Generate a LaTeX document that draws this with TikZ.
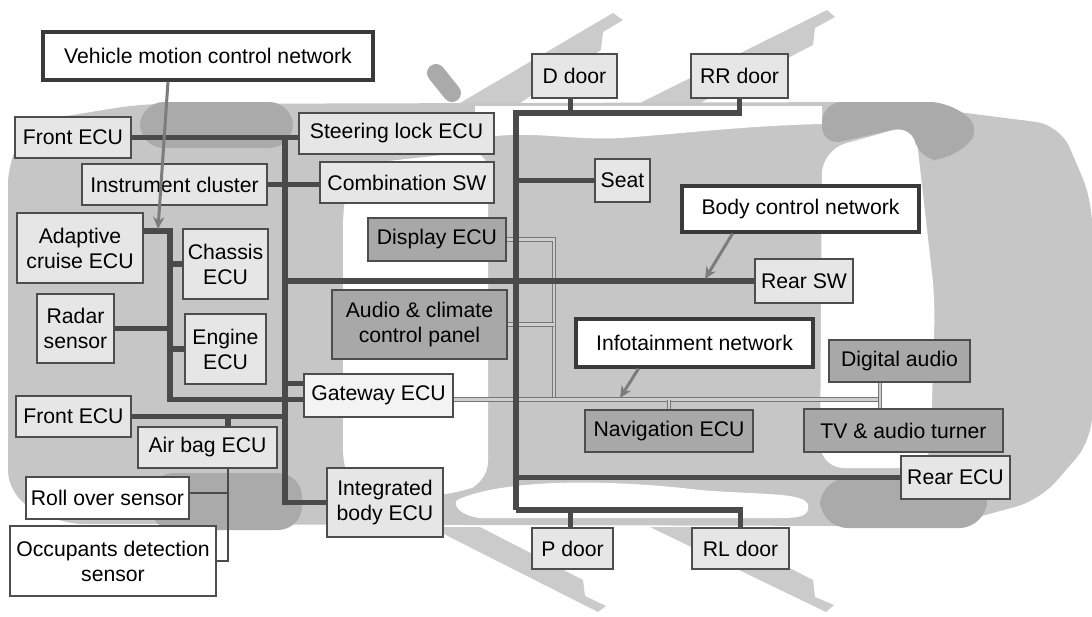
\documentclass[tikz,border=0pt]{standalone}
\usepackage{fontspec}
\setmainfont{Liberation Sans}
\usetikzlibrary{arrows.meta,positioning}

\definecolor{bodyfill}{HTML}{C6C6C6}
\definecolor{archfill}{HTML}{AAAAAA}
\definecolor{doorfill}{HTML}{CBCBCB}
\definecolor{lightbox}{HTML}{E6E6E6}
\definecolor{gatefill}{HTML}{F3F3F3}
\definecolor{darkbox}{HTML}{A8A8A8}
\definecolor{boxline}{HTML}{4D4D4D}
\definecolor{netline}{HTML}{3A3A3A}
\definecolor{busline}{HTML}{4A4A4A}
\definecolor{avline}{HTML}{777777}
\definecolor{avfill}{HTML}{CFCFCF}
\definecolor{arrowgray}{HTML}{7C7C7C}

\begin{document}
\begin{tikzpicture}[x=0.5pt,y=-0.5pt,font=\fontsize{10.6}{12.5}\selectfont]
  \tikzstyle{unit}=[draw=boxline, line width=0.7pt, fill=lightbox, inner sep=0pt, align=center, minimum height=20.5pt]
  \tikzstyle{media}=[unit, fill=darkbox]
  \tikzstyle{sensor}=[unit, fill=white]
  \tikzstyle{net}=[unit, fill=white, draw=netline, line width=1.6pt]
  \tikzstyle{bus}=[draw=busline, line width=2.6pt]
  \tikzstyle{wire}=[draw=busline, line width=0.8pt]
  \tikzstyle{avbus}=[draw=avline, line width=0.6pt, double=avfill, double distance=1.1pt]
  \tikzstyle{pointer}=[draw=arrowgray, line width=1.5pt, -{Stealth[length=6pt,width=5.5pt]}]

  \useasboundingbox (0,0) rectangle (1092,616);

  % car seen from above, doors open
  \fill[doorfill] (460,103) -- (613,13) -- (623,20) -- (603,32) -- (601,50) -- (520,103) -- cycle;
  \fill[doorfill] (640,103) -- (827,10) -- (835,17) -- (815,28) -- (813,45) -- (700,103) -- cycle;
  \fill[doorfill] (430,527) -- (598,612) -- (606,606) -- (585,596) -- (583,580) -- (480,527) -- cycle;
  \fill[doorfill] (650,527) -- (826,612) -- (834,605) -- (815,597) -- (813,580) -- (710,527) -- cycle;
  \draw[archfill, line width=9pt, line cap=round] (436,73) -- (452,93);

  \fill[bodyfill, rounded corners=12pt] (30,122) -- (140,104) -- (880,102) -- (1060,125)
    -- (1092,200) -- (1092,440) -- (1040,500) -- (960,522) -- (880,526) -- (60,524)
    -- (8,495) -- (8,160) -- cycle;

  \fill[white, rounded corners=10pt] (343,205) -- (352,165) -- (488,150) -- (488,482)
    -- (455,494) -- (358,500) -- (343,470) -- cycle;
  \fill[white] (475,106) -- (822,106) -- (822,124) .. controls (740,126) and (680,134) .. (620,138)
    .. controls (570,141) and (520,128) .. (475,140) -- cycle;
  \fill[white] (457,500) .. controls (500,480) and (600,478) .. (700,490)
    .. controls (760,495) and (805,492) .. (808,505) .. controls (810,516) and (800,518) .. (780,518)
    -- (480,518) .. controls (462,516) and (452,506) .. (457,500) -- cycle;
  \fill[white, rounded corners=12pt] (822,150) -- (915,124) -- (935,300) -- (930,468) -- (820,468) -- cycle;

  \fill[archfill, rounded corners=12pt] (140,102) rectangle (293,148);
  \fill[archfill, rounded corners=12pt] (150,473) rectangle (302,530);
  \fill[archfill, rounded corners=10pt] (822,102) -- (950,102) -- (983,130) -- (950,160)
    -- (918,160) -- (913,125) -- (822,146) -- cycle;
  \fill[archfill, rounded corners=14pt] (820,478) rectangle (987,528);

  % units
  \node[net, minimum width=165pt, minimum height=24pt] (vmcn) at (208,56) {Vehicle motion control network};
  \node[unit, minimum width=58pt] (frontf) at (73,137.5) {Front ECU};
  \node[unit, minimum width=97.5pt] (steer) at (396.5,133.5) {Steering lock ECU};
  \node[unit, minimum width=92.5pt] (instr) at (174.5,184.5) {Instrument cluster};
  \node[unit, minimum width=87pt] (combsw) at (407,182.5) {Combination SW};
  \node[unit, minimum width=63pt, minimum height=35pt] (acc) at (80,248) {Adaptive\\cruise ECU};
  \node[unit, minimum width=42.5pt, minimum height=35pt] (chassis) at (225.5,264) {Chassis\\ECU};
  \node[unit, minimum width=38.5pt, minimum height=34.5pt] (radar) at (75.5,328.5) {Radar\\sensor};
  \node[unit, minimum width=40.5pt, minimum height=35pt] (engine) at (225.5,349) {Engine\\ECU};
  \node[unit, fill=gatefill, minimum width=74.5pt, minimum height=21.5pt] (gateway) at (378.5,395.5) {Gateway ECU};
  \node[unit, minimum width=57.5pt] (frontr) at (73.5,416.5) {Front ECU};
  \node[unit, minimum width=69.5pt] (airbag) at (207.5,447.5) {Air bag ECU};
  \node[sensor, minimum width=81.5pt, minimum height=21pt] (roll) at (107.5,498) {Roll over sensor};
  \node[sensor, minimum width=103pt, minimum height=35pt] (occupant) at (113,561) {Occupants detection\\sensor};
  \node[unit, minimum width=58pt, minimum height=34.5pt] (ibody) at (385,502.5) {Integrated\\body ECU};
  \node[media, minimum width=69pt, minimum height=21.5pt] (display) at (437,239.5) {Display ECU};
  \node[media, minimum width=87.5pt, minimum height=34.5pt] (audio) at (419.5,324.5) {Audio \& climate\\control panel};
  \node[unit, minimum width=42.5pt, minimum height=22pt] (ddoor) at (574.5,76) {D door};
  \node[unit, minimum width=48.5pt, minimum height=22pt] (rrdoor) at (739.5,76) {RR door};
  \node[unit, minimum width=27.5pt, minimum height=21.5pt] (seat) at (622.5,180.5) {Seat};
  \node[net, minimum width=118.5pt, minimum height=23pt] (bcn) at (800.5,209) {Body control network};
  \node[unit, minimum width=49pt, minimum height=22pt] (rearsw) at (804,281) {Rear SW};
  \node[net, minimum width=118.5pt, minimum height=24pt] (infonet) at (694.5,343) {Infotainment network};
  \node[media, minimum width=70.5pt, minimum height=21pt] (digaudio) at (899.5,361) {Digital audio};
  \node[media, minimum width=84pt, minimum height=21pt] (nav) at (669,431) {Navigation ECU};
  \node[media, minimum width=99.5pt, minimum height=21.5pt] (tv) at (903.5,430.5) {TV \& audio turner};
  \node[unit, minimum width=54.5pt, minimum height=21.5pt] (rearecu) at (955.5,477.5) {Rear ECU};
  \node[unit, minimum width=40.5pt] (pdoor) at (572.5,548.5) {P door};
  \node[unit, minimum width=48.5pt] (rldoor) at (740.5,548.5) {RL door};

  \coordinate (ltop) at (285,137.5);
  \coordinate (lbot) at (285,502.5);
  \coordinate (icorner) at (170,231);
  \coordinate (ibot) at (170,399.5);
  \coordinate (bagtap) at (228,468);
  \coordinate (rolltap) at ([yshift=2.5pt]roll.east);
  \coordinate (rtop) at (516,113);
  \coordinate (rbot) at (516,510);
  \coordinate (avbend) at (554,399.5);
  \coordinate (avend) at (880,399.5);
  \coordinate (vmtip) at (158,229);
  \coordinate (bcntip) at (705,279);
  \coordinate (infotip) at (620,398);

  % infotainment line
  \draw[avbus] (display.east) -| (avbend);
  \draw[avbus] (audio.east) -- (audio.east -| avbend);
  \draw[avbus] ([yshift=-2pt]gateway.east) -- (avend);
  \draw[avbus] (digaudio.south -| avend) -- (tv.north -| avend);
  \draw[avbus] (nav.north) -- (nav.north |- avend);

  % vehicle motion control lines
  \draw[bus] (frontf.east) -- (steer.west |- frontf.east);
  \draw[bus] (ltop) -- (lbot) -- (ibody.west |- lbot);
  \draw[bus] (instr.east) -- (combsw.west |- instr.east);
  \draw[bus] ([yshift=6pt]gateway.west) -| (ltop);
  \draw[bus] (acc.east |- icorner) -- (icorner) -- (ibot) -- ([yshift=-2pt]gateway.west);
  \draw[bus] (icorner |- chassis.west) -- (chassis.west);
  \draw[bus] (radar.east) -- (icorner |- radar.east);
  \draw[bus] (icorner |- engine.west) -- (engine.west);
  \draw[bus] (frontr.east) -- (ltop |- frontr.east);
  \draw[bus] (bagtap |- airbag.north) -- (bagtap |- frontr.east);
  \draw[wire] (bagtap) -- (bagtap |- occupant.east) -- (occupant.east);
  \draw[wire] (rolltap) -- (bagtap |- rolltap);

  % body control lines
  \draw[bus] (ltop |- rearsw.west) -- (rearsw.west);
  \draw[bus] (rbot) -- (rtop) -| (rrdoor.south);
  \draw[bus] ([xshift=-2pt]ddoor.south) -- ([xshift=-2pt]ddoor.south |- rtop);
  \draw[bus] (rtop |- seat.west) -- (seat.west);
  \draw[bus] (rtop |- rearecu.west) -- (rearecu.west);
  \draw[bus] (rbot) -| (rldoor.north);
  \draw[bus] ([xshift=-1pt]pdoor.north) -- ([xshift=-1pt]pdoor.north |- rbot);

  \draw[pointer] ([xshift=-20pt]vmcn.south) -- (vmtip);
  \draw[pointer] ([xshift=-34pt]bcn.south) -- (bcntip);
  \draw[pointer] ([xshift=-28pt]infonet.south) -- (infotip);
\end{tikzpicture}
\end{document}
